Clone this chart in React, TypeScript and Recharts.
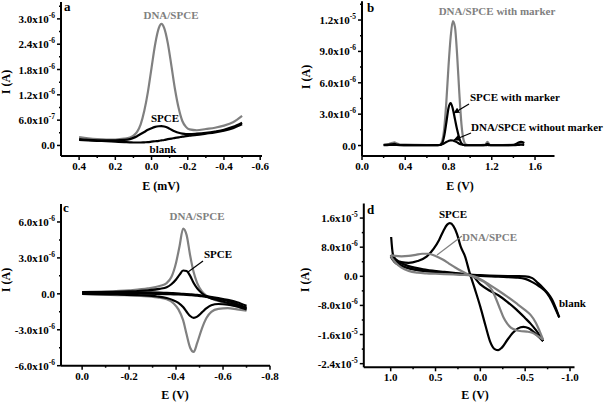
import React from "react";
import { LineChart, Line, XAxis, YAxis } from "recharts";

const GREY = "#808080";
const FONT = "Liberation Serif, Times New Roman, serif";

// currents are in units of 1e-6 A, potentials in V

// ---- panel a (DPV) ----
const aE = [0.4, 0.35, 0.3, 0.25, 0.2, 0.15, 0.12, 0.1, 0.08, 0.06, 0.04, 0.02, 0.0, -0.02, -0.04, -0.055, -0.07, -0.09, -0.11, -0.13, -0.15, -0.17, -0.19, -0.21, -0.25, -0.3, -0.35, -0.4, -0.45, -0.5];
const aDna = [0.2, 0.17, 0.15, 0.14, 0.14, 0.16, 0.19, 0.23, 0.32, 0.5, 0.82, 1.27, 1.84, 2.4, 2.78, 2.88, 2.78, 2.42, 1.88, 1.32, 0.88, 0.58, 0.44, 0.38, 0.36, 0.39, 0.42, 0.47, 0.55, 0.7];
const aSpce = [0.15, 0.13, 0.12, 0.12, 0.12, 0.13, 0.15, 0.18, 0.22, 0.27, 0.32, 0.37, 0.41, 0.44, 0.455, 0.46, 0.45, 0.42, 0.37, 0.33, 0.3, 0.28, 0.27, 0.27, 0.28, 0.3, 0.33, 0.37, 0.44, 0.54];
const aBlank = [0.13, 0.12, 0.11, 0.1, 0.09, 0.08, 0.075, 0.07, 0.07, 0.07, 0.075, 0.08, 0.09, 0.1, 0.11, 0.12, 0.13, 0.15, 0.16, 0.18, 0.19, 0.21, 0.22, 0.23, 0.25, 0.28, 0.31, 0.35, 0.41, 0.5];
const aXTicks = [0.4, 0.3, 0.2, 0.1, 0, -0.1, -0.2, -0.3, -0.4, -0.5, -0.6];
const aXMajor = [0.4, 0.2, 0, -0.2, -0.4, -0.6];
const aYTicks = [0, 0.3, 0.6, 0.9, 1.2, 1.5, 1.8, 2.1, 2.4, 2.7, 3.0, 3.3];
const aYMajor = [0, 0.6, 1.2, 1.8, 2.4, 3.0];

// ---- panel b (SWV) ----
const bE = [0.2, 0.25, 0.28, 0.3, 0.32, 0.35, 0.4, 0.5, 0.6, 0.7, 0.72, 0.74, 0.76, 0.78, 0.8, 0.82, 0.84, 0.86, 0.88, 0.9, 0.92, 0.94, 0.96, 0.98, 1.0, 1.1, 1.14, 1.16, 1.18, 1.2, 1.3, 1.4, 1.44, 1.47, 1.5];
const bDnaMarker = [0.1, 0.15, 0.25, 0.3, 0.2, 0.1, 0.08, 0.06, 0.05, 0.05, 0.08, 0.4, 1.6, 4.2, 7.6, 10.4, 11.9, 11.3, 8.6, 5.0, 2.0, 0.5, 0.1, 0.05, 0.05, 0.05, 0.08, 0.35, 0.08, 0.05, 0.05, 0.08, 0.2, 0.3, 0.2];
const bSpceMarker = [0.05, 0.1, 0.12, 0.15, 0.1, 0.05, 0.04, 0.03, 0.03, 0.04, 0.05, 0.2, 0.9, 2.2, 3.6, 4.05, 3.5, 2.5, 1.5, 0.7, 0.2, 0.05, 0.03, 0.03, 0.03, 0.03, 0.05, 0.15, 0.05, 0.03, 0.03, 0.05, 0.25, 0.35, 0.25];
const bDnaNoMarker = [0.03, 0.05, 0.06, 0.06, 0.05, 0.04, 0.03, 0.03, 0.03, 0.04, 0.05, 0.12, 0.22, 0.34, 0.44, 0.5, 0.48, 0.4, 0.3, 0.18, 0.1, 0.05, 0.03, 0.03, 0.03, 0.03, 0.03, 0.05, 0.03, 0.03, 0.03, 0.03, 0.05, 0.08, 0.05];
const bXTicks = [0, 0.2, 0.4, 0.6, 0.8, 1.0, 1.2, 1.4, 1.6];
const bXMajor = [0, 0.4, 0.8, 1.2, 1.6];
const bYTicks = [0, 1.5, 3, 4.5, 6, 7.5, 9, 10.5, 12, 13.5];
const bYMajor = [0, 3, 6, 9, 12];

// ---- panel c (CV, narrow window) ----
const cFwdE = [0.0, -0.1, -0.2, -0.28, -0.33, -0.36, -0.38, -0.4, -0.415, -0.43, -0.445, -0.46, -0.475, -0.49, -0.51, -0.54, -0.58, -0.62, -0.66, -0.7];
const cRevE = [-0.7, -0.66, -0.62, -0.58, -0.55, -0.53, -0.51, -0.49, -0.475, -0.46, -0.445, -0.43, -0.41, -0.39, -0.36, -0.32, -0.25, -0.15, 0.0];
const cDnaFwd = [0.15, 0.2, 0.3, 0.45, 0.65, 0.9, 1.4, 2.6, 4.0, 5.45, 4.9, 3.2, 1.8, 0.9, 0.2, -0.3, -0.6, -0.85, -1.05, -1.35];
const cDnaRev = [-1.4, -1.3, -1.2, -1.25, -1.5, -2.0, -2.9, -4.1, -4.85, -4.5, -3.4, -2.2, -1.3, -0.8, -0.45, -0.3, -0.18, -0.1, 0.0];
const cSpceFwd = [0.1, 0.15, 0.2, 0.3, 0.42, 0.55, 0.8, 1.2, 1.6, 1.95, 1.9, 1.5, 0.9, 0.45, 0.05, -0.3, -0.55, -0.75, -0.95, -1.2];
const cSpceRev = [-1.3, -1.05, -0.9, -0.85, -0.95, -1.2, -1.55, -1.9, -2.0, -1.85, -1.5, -1.1, -0.75, -0.55, -0.35, -0.22, -0.12, -0.05, 0.0];
const cBlankFwd = [0.15, 0.15, 0.14, 0.12, 0.1, 0.08, 0.06, 0.04, 0.02, 0.0, -0.02, -0.04, -0.06, -0.09, -0.14, -0.22, -0.35, -0.5, -0.7, -1.0];
const cBlankRev = [-1.15, -0.85, -0.6, -0.42, -0.32, -0.26, -0.2, -0.16, -0.13, -0.11, -0.09, -0.07, -0.05, -0.04, -0.02, 0.0, 0.02, 0.04, 0.05];
const cXTicks = [0, -0.1, -0.2, -0.3, -0.4, -0.5, -0.6, -0.7, -0.8];
const cXMajor = [0, -0.2, -0.4, -0.6, -0.8];
const cYTicks = [-6, -4.5, -3, -1.5, 0, 1.5, 3, 4.5, 6];
const cYMajor = [-6, -3, 0, 3, 6];

// ---- panel d (CV, wide window) ----
const dSpceFwdE = [0.995, 0.975, 0.94, 0.88, 0.8, 0.7, 0.6, 0.52, 0.46, 0.41, 0.37, 0.34, 0.3, 0.26, 0.22, 0.17, 0.12, 0.06, 0.0, -0.06, -0.11, -0.16, -0.2, -0.24, -0.3, -0.36, -0.42, -0.48, -0.54, -0.6, -0.65, -0.7];
const dSpceFwd = [10.8, 6.0, 4.6, 3.9, 3.7, 4.2, 5.4, 7.6, 10.0, 12.6, 14.2, 14.6, 13.8, 11.6, 8.2, 5.4, 1.0, -3.6, -8.4, -13.8, -18.0, -20.0, -20.3, -19.6, -17.5, -15.6, -14.3, -13.9, -14.3, -15.4, -16.6, -17.8];
const dRevE = [-0.7, -0.66, -0.62, -0.56, -0.5, -0.4, -0.3, -0.2, -0.1, 0.0, 0.1, 0.2, 0.3, 0.4, 0.5, 0.6, 0.7, 0.8, 0.88, 0.94, 0.98, 1.0];
const dSpceRev = [-17.8, -16.2, -14.8, -13.0, -11.5, -9.1, -7.0, -5.2, -3.9, -2.2, 0.3, 0.6, 0.8, 1.0, 1.2, 1.4, 1.7, 2.2, 3.0, 4.0, 5.0, 5.8];
const dDnaFwdE = [1.0, 0.95, 0.88, 0.8, 0.72, 0.65, 0.58, 0.5, 0.42, 0.35, 0.28, 0.2, 0.1, 0.0, -0.06, -0.13, -0.18, -0.22, -0.26, -0.3, -0.34, -0.4, -0.46, -0.52, -0.58, -0.64, -0.7];
const dDnaFwd = [5.8, 5.6, 5.5, 5.6, 5.9, 6.2, 6.2, 5.6, 4.6, 3.5, 2.4, 1.3, 0.1, -1.0, -1.9, -3.8, -6.5, -9.0, -11.4, -13.0, -14.1, -14.8, -15.1, -15.2, -15.5, -16.4, -17.4];
const dDnaRev = [-17.4, -15.0, -12.8, -10.6, -9.3, -7.4, -5.6, -3.9, -2.3, -0.8, 0.2, 0.4, 0.5, 0.6, 0.7, 0.8, 1.0, 1.5, 2.4, 3.6, 4.8, 5.6];
const dBlankFwdE = [1.0, 0.96, 0.9, 0.8, 0.6, 0.4, 0.2, 0.0, -0.2, -0.4, -0.5, -0.58, -0.64, -0.7, -0.75, -0.8, -0.84, -0.88];
const dBlankFwd = [5.6, 4.6, 3.8, 2.8, 1.8, 1.2, 0.7, 0.3, 0.1, 0.05, 0.0, -0.5, -1.8, -3.2, -4.6, -6.4, -8.6, -11.3];
const dBlankRevE = [-0.88, -0.86, -0.82, -0.77, -0.72, -0.66, -0.58, -0.5, -0.4, -0.2, 0.0, 0.2, 0.4, 0.6, 0.8, 0.9, 0.96, 1.0];
const dBlankRev = [-11.3, -10.2, -8.0, -5.6, -4.0, -2.8, -1.6, -0.7, -0.35, -0.1, 0.1, 0.5, 0.9, 1.4, 2.2, 3.0, 4.0, 5.4];
const dXTicks = [1.0, 0.75, 0.5, 0.25, 0, -0.25, -0.5, -0.75, -1.0];
const dXMajor = [1.0, 0.5, 0, -0.5, -1.0];
const dYTicks = [-24, -20, -16, -12, -8, -4, 0, 4, 8, 12, 16];
const dYMajor = [-24, -16, -8, 0, 8, 16];

const pts = (xs: number[], ys: number[]) => xs.map((x, i) => ({ x, y: ys[i] }));
const isMajor = (list: number[], v: number) => list.some((m) => Math.abs(m - v) < 1e-6);

// 3.0 (x1e-6 A) -> "3.0x10" + "-6"
const ampParts = (v: number) => {
  if (Math.abs(v) < 1e-9) return { m: "0.0", e: "" };
  const a = v * 1e-6;
  const e = Math.floor(Math.log10(Math.abs(a)) + 1e-9);
  return { m: (a / Math.pow(10, e)).toFixed(1) + "x10", e: String(e) };
};

const txt = { fontFamily: FONT, fontWeight: 700 } as React.CSSProperties;

const makeYTick = (majors: number[]) => (props: any) => {
  const { x, y, payload } = props;
  const major = isMajor(majors, payload.value);
  const p = ampParts(payload.value);
  return (
    <g>
      <line x1={x} x2={x - (major ? 4 : 2)} y1={y} y2={y} stroke="#000" strokeWidth={1.5} />
      {major && (
        <text x={x - 6} y={y + 4} textAnchor="end" style={txt} fontSize={11} fill="#000">
          {p.m}
          {p.e && (
            <tspan dy={-5} fontSize={7.5}>
              {p.e}
            </tspan>
          )}
        </text>
      )}
    </g>
  );
};

const makeXTick = (majors: number[]) => (props: any) => {
  const { x, y, payload } = props;
  const major = isMajor(majors, payload.value);
  return (
    <g>
      <line x1={x} x2={x} y1={y} y2={y + (major ? 4 : 2)} stroke="#000" strokeWidth={1.5} />
      {major && (
        <text x={x} y={y + 14} textAnchor="middle" style={txt} fontSize={11} fill="#000">
          {Math.abs(payload.value) < 1e-9 ? "0.0" : payload.value.toFixed(1)}
        </text>
      )}
    </g>
  );
};

const axisLine = { stroke: "#000", strokeWidth: 2 };

type Series = { data: { x: number; y: number }[]; color: string };

const Panel = (p: {
  left: number;
  top: number;
  width: number;
  height: number;
  margin: { top: number; right: number; bottom: number; left: number };
  xDomain: [number, number];
  reversed: boolean;
  yDomain: [number, number];
  xTicks: number[];
  xMajor: number[];
  yTicks: number[];
  yMajor: number[];
  series: Series[];
}) => (
  <div style={{ position: "absolute", left: p.left, top: p.top }}>
    <LineChart
      width={p.width}
      height={p.height}
      margin={{ top: p.margin.top, right: p.margin.right, bottom: 0, left: 0 }}
    >
      <XAxis
        type="number"
        dataKey="x"
        domain={p.xDomain}
        allowDataOverflow
        reversed={p.reversed}
        ticks={p.xTicks}
        interval={0}
        height={p.margin.bottom}
        tickSize={0}
        tickMargin={0}
        axisLine={axisLine}
        tickLine={false}
        tick={makeXTick(p.xMajor)}
      />
      <YAxis
        type="number"
        domain={p.yDomain}
        allowDataOverflow
        ticks={p.yTicks}
        interval={0}
        width={p.margin.left}
        tickSize={0}
        tickMargin={0}
        axisLine={axisLine}
        tickLine={false}
        tick={makeYTick(p.yMajor)}
      />
      {p.series.map((s, i) => (
        <Line
          key={i}
          data={s.data}
          dataKey="y"
          type="monotone"
          stroke={s.color}
          strokeWidth={2.2}
          dot={false}
          isAnimationActive={false}
        />
      ))}
    </LineChart>
  </div>
);

const T = (props: any) => <text style={txt} fontSize={11} fill="#000" {...props} />;

export default function App() {
  return (
    <div style={{ position: "absolute", left: 0, top: 0, width: 604, height: 403, background: "#fff" }}>
      <Panel
        left={0}
        top={0}
        width={300}
        height={200}
        margin={{ top: 2, right: 38, bottom: 44, left: 61 }}
        xDomain={[-0.61, 0.5]}
        reversed
        yDomain={[-0.25, 3.4]}
        xTicks={aXTicks}
        xMajor={aXMajor}
        yTicks={aYTicks}
        yMajor={aYMajor}
        series={[
          { data: pts(aE, aDna), color: GREY },
          { data: pts(aE, aBlank), color: "#000" },
          { data: pts(aE, aSpce), color: "#000" },
        ]}
      />
      <Panel
        left={300}
        top={0}
        width={304}
        height={200}
        margin={{ top: 1.2, right: 49.5, bottom: 44, left: 62 }}
        xDomain={[0, 1.78]}
        reversed={false}
        yDomain={[-1.0, 13.8]}
        xTicks={bXTicks}
        xMajor={bXMajor}
        yTicks={bYTicks}
        yMajor={bYMajor}
        series={[
          { data: pts(bE, bDnaMarker), color: GREY },
          { data: pts(bE, bDnaNoMarker), color: "#000" },
          { data: pts(bE, bSpceMarker), color: "#000" },
        ]}
      />
      <Panel
        left={0}
        top={200}
        width={300}
        height={203}
        margin={{ top: 4, right: 30, bottom: 37.3, left: 61 }}
        xDomain={[-0.8, 0.09]}
        reversed
        yDomain={[-6, 7.5]}
        xTicks={cXTicks}
        xMajor={cXMajor}
        yTicks={cYTicks}
        yMajor={cYMajor}
        series={[
          { data: pts(cFwdE, cDnaFwd), color: GREY },
          { data: pts(cRevE, cDnaRev), color: GREY },
          { data: pts(cFwdE, cBlankFwd), color: "#000" },
          { data: pts(cRevE, cBlankRev), color: "#000" },
          { data: pts(cFwdE, cSpceFwd), color: "#000" },
          { data: pts(cRevE, cSpceRev), color: "#000" },
        ]}
      />
      <Panel
        left={300}
        top={200}
        width={304}
        height={203}
        margin={{ top: 3.5, right: 29.5, bottom: 35.7, left: 63.8 }}
        xDomain={[-1.05, 1.3]}
        reversed
        yDomain={[-25, 20]}
        xTicks={dXTicks}
        xMajor={dXMajor}
        yTicks={dYTicks}
        yMajor={dYMajor}
        series={[
          { data: pts(dBlankFwdE, dBlankFwd), color: "#000" },
          { data: pts(dBlankRevE, dBlankRev), color: "#000" },
          { data: pts(dSpceFwdE, dSpceFwd), color: "#000" },
          { data: pts(dRevE, dSpceRev), color: "#000" },
          { data: pts(dDnaFwdE, dDnaFwd), color: GREY },
          { data: pts(dRevE, dDnaRev), color: GREY },
        ]}
      />
      <svg
        width={604}
        height={403}
        style={{ position: "absolute", left: 0, top: 0, pointerEvents: "none" }}
      >
        <defs>
          <marker id="ah" viewBox="0 0 10 10" refX="9" refY="5" markerWidth="5" markerHeight="5" orient="auto">
            <path d="M0,0 L10,5 L0,10 z" fill="#000" />
          </marker>
        </defs>
        {/* panel letters */}
        <T x={64} y={11} fontSize={13}>a</T>
        <T x={367} y={12} fontSize={13}>b</T>
        <T x={63} y={212} fontSize={13}>c</T>
        <T x={367} y={214} fontSize={13}>d</T>

        {/* axis titles */}
        <T x={161} y={190} fontSize={12} textAnchor="middle">E (mV)</T>
        <T x={460} y={190} fontSize={12} textAnchor="middle">E (V)</T>
        <T x={175} y={399} fontSize={12} textAnchor="middle">E (V)</T>
        <T x={475} y={399} fontSize={12} textAnchor="middle">E (V)</T>
        <T x={0} y={0} fontSize={12} textAnchor="middle" transform="translate(10,82) rotate(-90)">I (A)</T>
        <T x={0} y={0} fontSize={12} textAnchor="middle" transform="translate(310,77) rotate(-90)">I (A)</T>
        <T x={0} y={0} fontSize={12} textAnchor="middle" transform="translate(10,280) rotate(-90)">I (A)</T>
        <T x={0} y={0} fontSize={12} textAnchor="middle" transform="translate(309,280) rotate(-90)">I (A)</T>

        {/* panel a labels */}
        <T x={171} y={19} textAnchor="middle" fill={GREY}>DNA/SPCE</T>
        <T x={165} y={122} textAnchor="middle">SPCE</T>
        <T x={163} y={153} textAnchor="middle">blank</T>

        {/* panel b labels */}
        <T x={497} y={15} textAnchor="middle" fill={GREY}>DNA/SPCE with marker</T>
        <T x={470} y={101}>SPCE with marker</T>
        <T x={471} y={131}>DNA/SPCE without marker</T>
        <line x1={469} y1={104} x2={454} y2={113} stroke="#000" strokeWidth={1.2} markerEnd="url(#ah)" />
        <line x1={471} y1={133} x2={454} y2={140} stroke="#000" strokeWidth={1.2} markerEnd="url(#ah)" />

        {/* panel c labels */}
        <T x={197} y={220} textAnchor="middle" fill={GREY}>DNA/SPCE</T>
        <T x={218} y={258} textAnchor="middle">SPCE</T>
        <line x1={203} y1={261} x2={188} y2={272} stroke="#000" strokeWidth={1.2} />

        {/* panel d labels */}
        <T x={453} y={218} textAnchor="middle">SPCE</T>
        <T x={462} y={241} fill={GREY}>DNA/SPCE</T>
        <line x1={462} y1={236} x2={437} y2={255} stroke={GREY} strokeWidth={1.2} />
        <T x={559} y={307}>blank</T>
      </svg>
    </div>
  );
}
